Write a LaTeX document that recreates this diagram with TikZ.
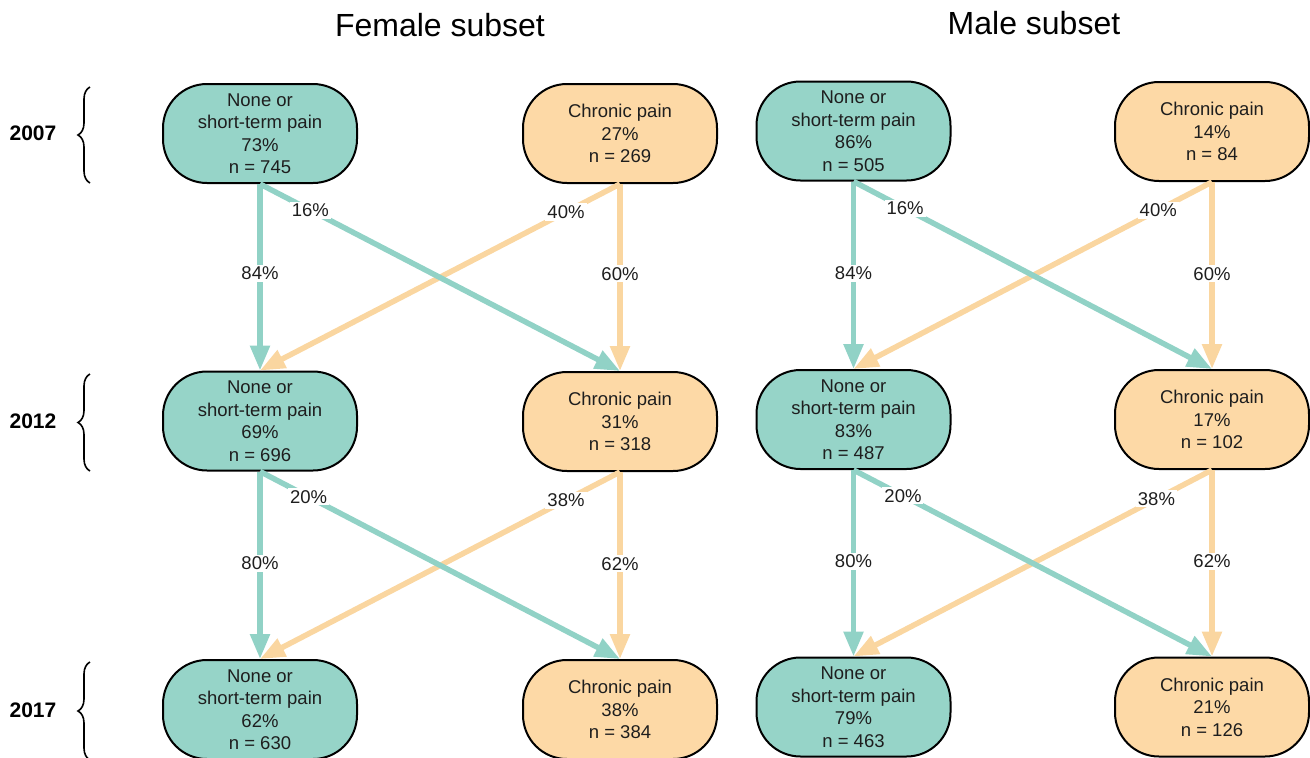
\documentclass[tikz,border=0pt]{standalone}
\usepackage{fontspec}
\setmainfont{Liberation Sans}
\usetikzlibrary{arrows.meta,decorations.pathreplacing}
\definecolor{tealfill}{RGB}{150,212,200}
\definecolor{tealline}{RGB}{145,210,198}
\definecolor{orangefill}{RGB}{253,217,166}
\definecolor{orangeline}{RGB}{250,214,160}
\definecolor{inkgray}{RGB}{30,30,30}
\begin{document}
\begin{tikzpicture}[x=1pt,y=-1pt,
  state/.style={draw=black, line width=2pt, rounded corners=44pt,
    minimum width=194pt, minimum height=99pt, align=center, inner sep=0pt,
    text=inkgray, font=\fontsize{18.5}{22.5}\selectfont},
  okbox/.style={state, fill=tealfill},
  painbox/.style={state, fill=orangefill},
  flow/.style={line width=5.5pt, -{Triangle[length=25pt,width=19pt]}},
  tflow/.style={flow, draw=tealline},
  oflow/.style={flow, draw=orangeline},
  pct/.style={fill=white, inner sep=2pt, text=inkgray, font=\fontsize{18.5}{20}\selectfont},
  title/.style={anchor=base, font=\fontsize{32}{36}\selectfont, text=black},
  year/.style={anchor=base, font=\fontsize{21}{24}\selectfont\bfseries, text=black},
  yearbrace/.style={decorate, decoration={brace, amplitude=12pt}, line width=1.6pt, draw=black}
]
\useasboundingbox (0,0) rectangle (1310,758);

% column titles
\node[title] (tf) at (440,36) {Female subset};
\node[title] (tm) at (1034,34) {Male subset};

% survey years with braces
\node[year] (y07) at (33,140) {2007};
\node[year] (y12) at (33,428) {2012};
\node[year] (y17) at (33,717) {2017};
\coordinate (b07a) at (90,183); \coordinate (b07b) at (90,87);
\coordinate (b12a) at (90,471); \coordinate (b12b) at (90,374);
\coordinate (b17a) at (90,760); \coordinate (b17b) at (90,662);
\draw[yearbrace] (b07a) -- (b07b);
\draw[yearbrace] (b12a) -- (b12b);
\draw[yearbrace] (b17a) -- (b17b);

% female states
\node[okbox]   (f07n) at (260,133.5) {None or\\short-term pain\\73\%\\n = 745};
\node[painbox] (f07c) at (620,133.5) {Chronic pain\\27\%\\n = 269};
\node[okbox]   (f12n) at (260,421)   {None or\\short-term pain\\69\%\\n = 696};
\node[painbox] (f12c) at (620,421.5) {Chronic pain\\31\%\\n = 318};
\node[okbox]   (f17n) at (260,709.5) {None or\\short-term pain\\62\%\\n = 630};
\node[painbox] (f17c) at (620,709.5) {Chronic pain\\38\%\\n = 384};

% male states
\node[okbox]   (m07n) at (853.5,131)   {None or\\short-term pain\\86\%\\n = 505};
\node[painbox] (m07c) at (1212,131.5)  {Chronic pain\\14\%\\n = 84};
\node[okbox]   (m12n) at (853.5,419.5) {None or\\short-term pain\\83\%\\n = 487};
\node[painbox] (m12c) at (1212,419.5)  {Chronic pain\\17\%\\n = 102};
\node[okbox]   (m17n) at (853.5,707)   {None or\\short-term pain\\79\%\\n = 463};
\node[painbox] (m17c) at (1212,707)    {Chronic pain\\21\%\\n = 126};

% female transitions 2007 -> 2012
\draw[oflow] (f07c.south) -- node[pct,pos=.48] {60\%} (f12c.north);
\draw[oflow] (f07c.south) -- node[pct,pos=.15] {40\%} (f12n.north);
\draw[tflow] (f07n.south) -- node[pct,pos=.48] {84\%} (f12n.north);
\draw[tflow] (f07n.south) -- node[pct,pos=.14] {16\%} (f12c.north);

% female transitions 2012 -> 2017
\draw[oflow] (f12c.south) -- node[pct,pos=.49] {62\%} (f17c.north);
\draw[oflow] (f12c.south) -- node[pct,pos=.15] {38\%} (f17n.north);
\draw[tflow] (f12n.south) -- node[pct,pos=.49] {80\%} (f17n.north);
\draw[tflow] (f12n.south) -- node[pct,pos=.135] {20\%} (f17c.north);

% male transitions 2007 -> 2012
\draw[oflow] (m07c.south) -- node[pct,pos=.49] {60\%} (m12c.north);
\draw[oflow] (m07c.south) -- node[pct,pos=.15] {40\%} (m12n.north);
\draw[tflow] (m07n.south) -- node[pct,pos=.49] {84\%} (m12n.north);
\draw[tflow] (m07n.south) -- node[pct,pos=.144] {16\%} (m12c.north);

% male transitions 2012 -> 2017
\draw[oflow] (m12c.south) -- node[pct,pos=.49] {62\%} (m17c.north);
\draw[oflow] (m12c.south) -- node[pct,pos=.155] {38\%} (m17n.north);
\draw[tflow] (m12n.south) -- node[pct,pos=.49] {80\%} (m17n.north);
\draw[tflow] (m12n.south) -- node[pct,pos=.138] {20\%} (m17c.north);
\end{tikzpicture}
\end{document}
